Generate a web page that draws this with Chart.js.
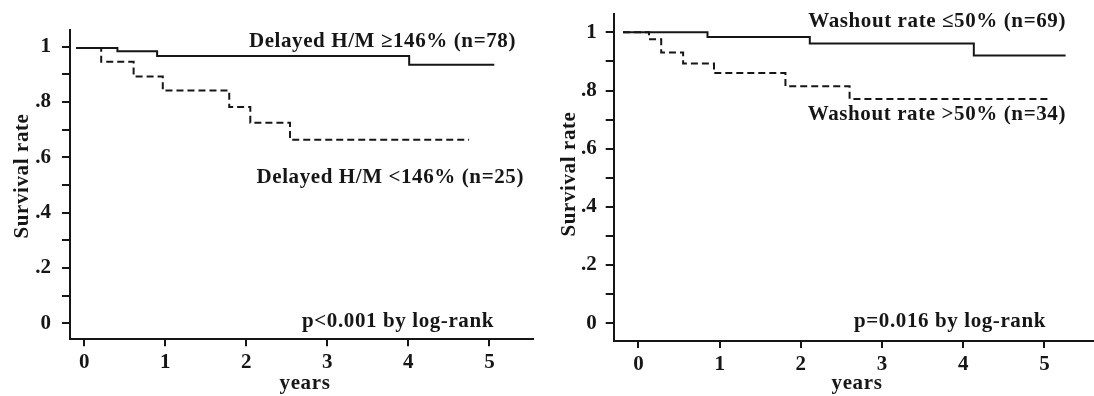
<!DOCTYPE html>
<html>
<head>
<meta charset="utf-8">
<script src="https://cdn.jsdelivr.net/npm/chart.js@4"></script>
<style>
body{margin:0;background:#fff;}
.wrap{display:flex;width:1094px;height:396px;overflow:hidden;}
canvas{display:block;}
</style>
</head>
<body>
<div class="wrap">
<canvas id="leftChart" width="547" height="396"></canvas>
<canvas id="rightChart" width="547" height="396"></canvas>
</div>
<script>

// DATA (years / survival rate)
const hmHighTimes = [-0.10, 0.41, 0.90, 4.01, 5.06];
const hmHighSurv  = [0.995, 0.983, 0.966, 0.934, 0.934];

const hmLowTimes = [-0.10, 0.21, 0.61, 0.97, 1.79, 2.05, 2.54, 4.75];
const hmLowSurv  = [0.995, 0.945, 0.892, 0.841, 0.782, 0.725, 0.663, 0.663];

const washLowTimes = [-0.19, 0.85, 2.11, 4.13, 5.26];
const washLowSurv  = [1.0, 0.984, 0.962, 0.920, 0.920];

const washHighTimes = [-0.19, 0.13, 0.28, 0.55, 0.93, 1.81, 2.60, 5.06];
const washHighSurv  = [1.0, 0.976, 0.931, 0.893, 0.860, 0.815, 0.771, 0.771];

// TICKS
const xTicks = [0, 1, 2, 3, 4, 5];
const xTickLabels = ['0', '1', '2', '3', '4', '5'];
const yTicks = [0, 0.1, 0.2, 0.3, 0.4, 0.5, 0.6, 0.7, 0.8, 0.9, 1];
const yTickLabels = ['0', '', '.2', '', '.4', '', '.6', '', '.8', '', '1'];

// TEXTS
const leftNotes = ['Delayed H/M \u2265146% (n=78)', 'Delayed H/M <146% (n=25)', 'p<0.001 by log-rank'];
const rightNotes = ['Washout rate \u226450% (n=69)', 'Washout rate >50% (n=34)', 'p=0.016 by log-rank'];
const yTitle = 'Survival rate';
const xTitle = 'years';

const INK = '#161616';
const FONT = '"Liberation Serif", "Times New Roman", serif';


function toPoints(times, surv){
    return times.map((t, i) => ({x: t, y: surv[i]}));
}


// draws the annotations + axis titles
const textPlugin = {

    id: 'kmText',

    afterDraw(chart, args, opts){

        const ctx = chart.ctx;

        ctx.save();
        ctx.fillStyle = INK;
        ctx.font = 'bold 21px ' + FONT;
        ctx.letterSpacing = '0.6px';
        ctx.textBaseline = 'alphabetic';

        ctx.textAlign = 'right';
        opts.notes.forEach(n => {
            ctx.fillText(n.text, n.x, n.y);
        });

        ctx.textAlign = 'center';
        ctx.fillText(xTitle, opts.xTitle.x, opts.xTitle.y);

        ctx.translate(opts.yTitle.x, opts.yTitle.y);
        ctx.rotate(-Math.PI / 2);
        ctx.fillText(yTitle, 0, 0);

        ctx.restore();

    }

};


function makeChart(id, cfg){

    new Chart(

    document.getElementById(id),

    {

        type: 'line',

        data: {

            datasets: [{

                data: toPoints(cfg.dashTimes, cfg.dashSurv),
                borderColor: INK,
                borderWidth: 2,
                borderDash: [7, 4],
                stepped: 'before',
                pointRadius: 0,
                fill: false

            }, {

                data: toPoints(cfg.solidTimes, cfg.solidSurv),
                borderColor: INK,
                borderWidth: 2,
                stepped: 'before',
                pointRadius: 0,
                fill: false

            }]

        },

        options: {

            responsive: false,
            animation: false,
            devicePixelRatio: 1,

            layout: {
                padding: cfg.padding
            },

            plugins: {
                legend: {display: false},
                tooltip: {enabled: false},
                kmText: cfg.text
            },

            scales: {

                x: {
                    type: 'linear',
                    min: cfg.xMin,
                    max: cfg.xMax,
                    afterBuildTicks: scale => {
                        scale.ticks = xTicks.map(v => ({value: v}));
                    },
                    afterFit: scale => {
                        scale.height = 396 - cfg.bottom;
                        scale.paddingLeft = 0;
                        scale.paddingRight = 0;
                    },
                    ticks: {
                        autoSkip: false,
                        maxRotation: 0,
                        padding: 4,
                        color: INK,
                        font: {family: FONT, size: 21, weight: 'bold'},
                        callback: (value, index) => xTickLabels[index]
                    },
                    grid: {
                        drawOnChartArea: false,
                        drawTicks: true,
                        tickLength: 7,
                        color: INK,
                        lineWidth: 2
                    },
                    border: {display: true, color: INK, width: 2}
                },

                y: {
                    type: 'linear',
                    min: cfg.yMin,
                    max: cfg.yMax,
                    afterBuildTicks: scale => {
                        scale.ticks = yTicks.map(v => ({value: v}));
                    },
                    afterFit: scale => {
                        scale.width = cfg.left;
                        scale.paddingTop = 0;
                        scale.paddingBottom = 0;
                    },
                    ticks: {
                        autoSkip: false,
                        padding: cfg.yPad,
                        color: INK,
                        font: {family: FONT, size: 21, weight: 'bold'},
                        callback: (value, index) => yTickLabels[index]
                    },
                    grid: {
                        drawOnChartArea: false,
                        drawTicks: true,
                        tickLength: 8,
                        color: INK,
                        lineWidth: 2
                    },
                    border: {display: true, color: INK, width: 2}
                }

            }

        },

        plugins: [textPlugin]

    });

}


// LEFT : delayed H/M
makeChart('leftChart', {

    solidTimes: hmHighTimes, solidSurv: hmHighSurv,
    dashTimes: hmLowTimes, dashSurv: hmLowSurv,

    xMin: -0.175, xMax: 5.538,
    yMin: -0.058, yMax: 1.060,

    left: 70, bottom: 339.3,
    padding: {top: 30, right: 14, left: 0, bottom: 0},
    yPad: 11,

    text: {
        notes: [
            {text: leftNotes[0], x: 516, y: 46.5},
            {text: leftNotes[1], x: 524, y: 182.5},
            {text: leftNotes[2], x: 494, y: 326.5}
        ],
        xTitle: {x: 305, y: 389},
        yTitle: {x: 28, y: 176}
    }

});


// RIGHT : washout rate
makeChart('rightChart', {

    solidTimes: washLowTimes, solidSurv: washLowSurv,
    dashTimes: washHighTimes, dashSurv: washHighSurv,

    xMin: -0.305, xMax: 5.61,
    yMin: -0.061, yMax: 1.063,

    left: 66.7, bottom: 341,
    padding: {top: 14, right: 0, left: 0, bottom: 0},
    yPad: 9,

    text: {
        notes: [
            {text: rightNotes[0], x: 519, y: 26.5},
            {text: rightNotes[1], x: 519, y: 120},
            {text: rightNotes[2], x: 499, y: 326.5}
        ],
        xTitle: {x: 310, y: 389},
        yTitle: {x: 28, y: 174}
    }

});

</script>
</body>
</html>
